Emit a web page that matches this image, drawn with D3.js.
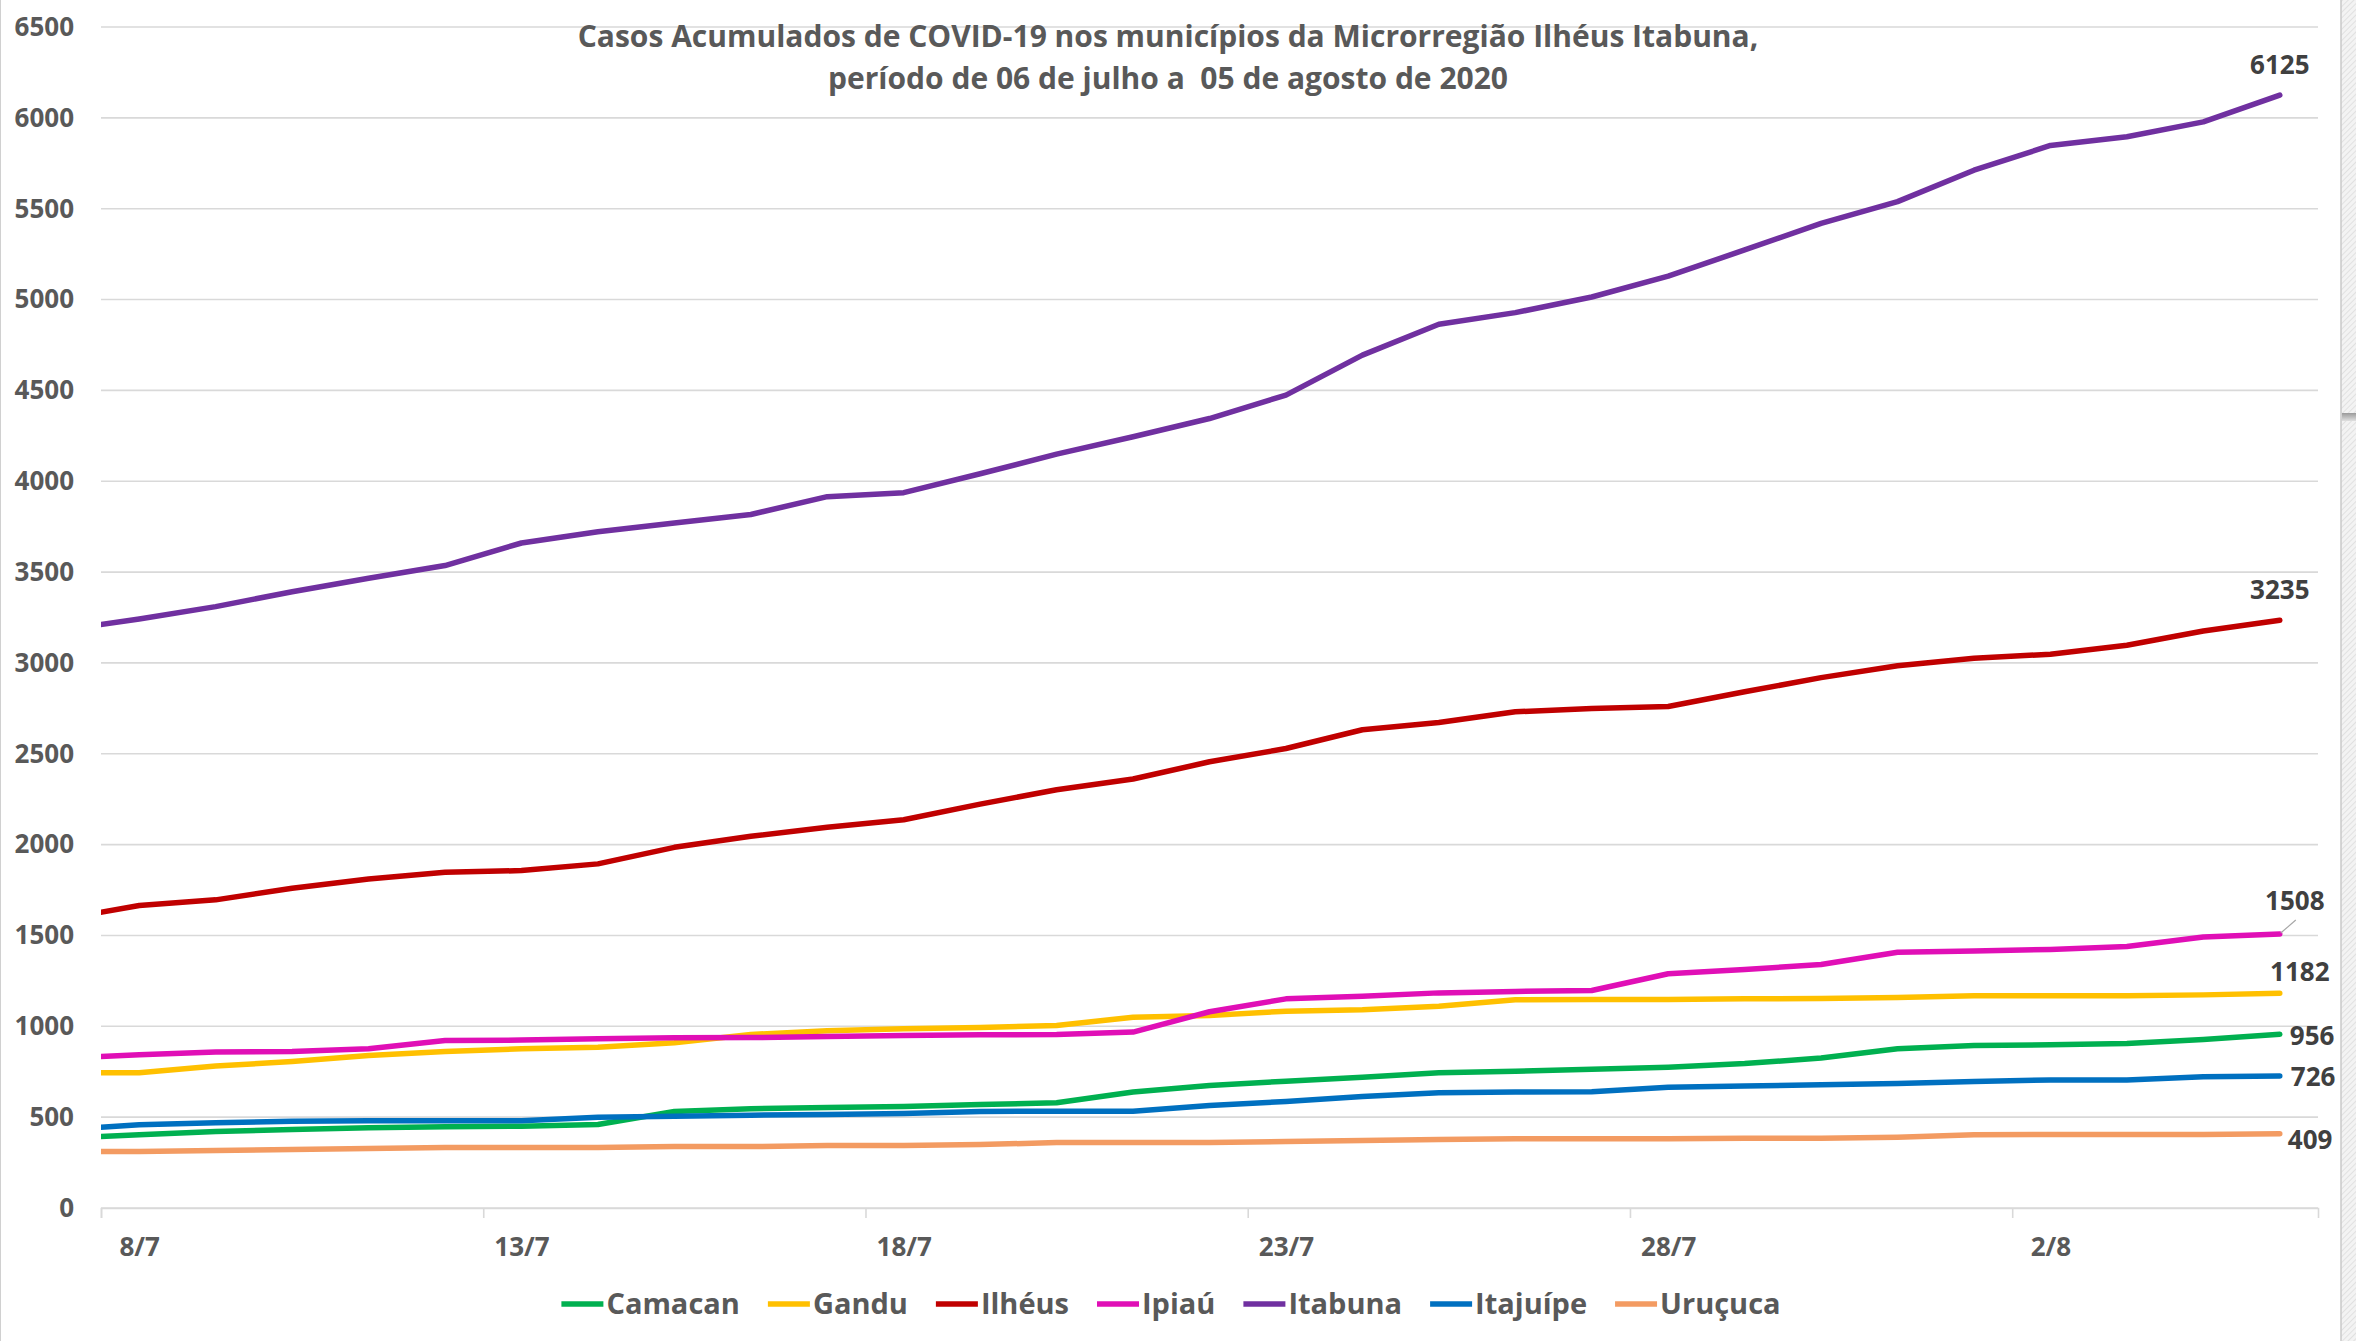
<!DOCTYPE html>
<html>
<head>
<meta charset="utf-8">
<script src="https://cdn.jsdelivr.net/npm/d3@7"></script>
<style>
  html, body { margin: 0; padding: 0; background: #fff; }
  svg { display: block; }
  text { font-family: "Open Sans", "Noto Sans", sans-serif; font-weight: 700; }
</style>
</head>
<body>
<svg id="chart" width="2356" height="1341"></svg>
<script>
// ---- data ----
const dates = ["7/7","8/7","9/7","10/7","11/7","12/7","13/7","14/7","15/7","16/7","17/7","18/7","19/7","20/7","21/7","22/7","23/7","24/7","25/7","26/7","27/7","28/7","29/7","30/7","31/7","1/8","2/8","3/8","4/8","5/8"];
const tickLabels = ["8/7","13/7","18/7","23/7","28/7","2/8"];
const seriesNames = ["Camacan","Gandu","Ilhéus","Ipiaú","Itabuna","Itajuípe","Uruçuca"];
const camacan  = [385,403,421,432,441,447,450,460,531,546,553,559,570,579,638,674,698,720,744,753,764,775,795,825,876,894,898,905,927,956];
const gandu    = [744,744,781,806,839,861,876,885,909,955,975,986,994,1005,1050,1060,1083,1091,1111,1146,1148,1148,1151,1153,1159,1168,1168,1168,1173,1182];
const ilheus   = [1591,1665,1696,1760,1811,1848,1857,1894,1985,2046,2095,2137,2223,2302,2361,2456,2529,2632,2672,2731,2749,2760,2841,2919,2984,3026,3048,3097,3176,3235];
const ipiau    = [825,843,858,861,876,922,924,931,937,938,944,950,953,955,968,1080,1151,1166,1184,1192,1197,1289,1313,1340,1408,1414,1423,1439,1491,1508];
const itabuna  = [3182,3242,3310,3392,3466,3536,3660,3722,3770,3817,3915,3937,4041,4149,4245,4345,4474,4694,4864,4928,5014,5129,5273,5419,5539,5712,5848,5896,5978,6125];
const itajuipe = [432,458,469,478,480,480,480,500,505,511,515,520,531,533,533,564,586,614,634,638,640,665,671,678,685,696,705,705,722,726];
const urucuca  = [311,311,316,322,327,333,333,333,338,338,344,344,349,360,360,360,366,372,377,381,381,381,384,384,390,403,405,405,405,409];
const yTicks = [0,500,1000,1500,2000,2500,3000,3500,4000,4500,5000,5500,6000,6500];
const titleLines = ["Casos Acumulados de COVID-19 nos municípios da Microrregião Ilhéus Itabuna,",
                    "período de 06 de julho a  05 de agosto de 2020"];

// ---- styles ----
const colors = ["#00B050","#FFC000","#C00000","#E00FB6","#7030A0","#0070C0","#F39B62"];
const values = [camacan, gandu, ilheus, ipiau, itabuna, itajuipe, urucuca];
// label placement relative to the last point: [dx, dy, anchor]
const labelPos = [[10,11,"start"],[20,-12,"middle"],[0,-21,"middle"],[15,-24,"middle"],[0,-21,"middle"],[11,10,"start"],[8,15,"start"]];

(function () {
const W = 2356, H = 1341;
const pLeft = 101, pRight = 2318, pTop = 27, pBottom = 1208;
const svg = d3.select("#chart");
svg.append("rect").attr("width", W).attr("height", H).attr("fill", "#fff");

const x = d3.scaleLinear().domain([0.5, dates.length - 0.5]).range([pLeft, pRight]);
const y = d3.scaleLinear().domain([0, 6500]).range([pBottom, pTop]);

// gridlines
svg.append("g").selectAll("line").data(yTicks).join("line")
  .attr("x1", pLeft).attr("x2", pRight)
  .attr("y1", d => y(d)).attr("y2", d => y(d))
  .attr("stroke", "#d9d9d9").attr("stroke-width", 1.6);

// y axis labels
const yAxis = d3.axisLeft(y).tickValues(yTicks).tickSize(0).tickPadding(0).tickFormat(d3.format("d"));
const gy = svg.append("g").attr("transform", `translate(74,0)`).call(yAxis);
gy.select(".domain").remove();
gy.selectAll("text").attr("font-size", 26).attr("fill", "#595959")
  .attr("font-family", '"Open Sans", sans-serif').attr("font-weight", 700);

// x axis tick marks (between categories)
const tickMarkIdx = tickLabels.map(t => dates.indexOf(t) - 0.5);
const xMarks = d3.axisBottom(x).tickValues(tickMarkIdx).tickSize(10).tickFormat("");
const gxm = svg.append("g").attr("transform", `translate(0,${pBottom})`).call(xMarks);
gxm.select(".domain").attr("stroke", "#d9d9d9").attr("stroke-width", 1.6);
gxm.selectAll(".tick line").attr("stroke", "#d9d9d9").attr("stroke-width", 1.6);

// x axis labels (centered on categories)
const tickIdx = tickLabels.map(t => dates.indexOf(t));
const xLabels = d3.axisBottom(x).tickValues(tickIdx).tickSize(0).tickPadding(0)
  .tickFormat(d => dates[d]);
const gxl = svg.append("g").attr("transform", `translate(0,${pBottom})`).call(xLabels);
gxl.select(".domain").remove();
gxl.selectAll("text").attr("font-size", 26).attr("fill", "#595959")
  .attr("font-family", '"Open Sans", sans-serif').attr("font-weight", 700)
  .attr("dy", null).attr("y", 48);

// clip
svg.append("clipPath").attr("id", "plotclip").append("rect")
  .attr("x", pLeft).attr("y", 0).attr("width", pRight - pLeft).attr("height", H);

const line = d3.line().x((d, i) => x(i)).y(d => y(d));
const gLines = svg.append("g").attr("clip-path", "url(#plotclip)");
values.forEach((vals, k) => {
  gLines.append("path").datum(vals)
    .attr("d", line).attr("fill", "none")
    .attr("stroke", colors[k]).attr("stroke-width", 5.5)
    .attr("stroke-linejoin", "round").attr("stroke-linecap", "round");
});

// data labels for last point
const last = dates.length - 1;
values.forEach((vals, k) => {
  const px = x(last), py = y(vals[last]);
  const [dx, dy, anchor] = labelPos[k];
  if (seriesNames[k] === "Ipiaú") {
    svg.append("line").attr("x1", px + 1).attr("y1", py - 1).attr("x2", px + 16).attr("y2", py - 14)
      .attr("stroke", "#a6a6a6").attr("stroke-width", 1.2);
  }
  svg.append("text").attr("x", px + dx).attr("y", py + dy)
    .attr("text-anchor", anchor).attr("font-size", 26).attr("fill", "#404040")
    .text(vals[last]);
});

// title
const gt = svg.append("g");
titleLines.forEach((t, i) => {
  gt.append("text").attr("x", 1168).attr("y", 47 + i * 42)
    .attr("text-anchor", "middle").attr("font-size", 30).attr("fill", "#595959")
    .attr("xml:space", "preserve").style("white-space", "pre").text(t);
});

// legend
const gl = svg.append("g");
let cx = 0;
seriesNames.forEach((name, k) => {
  const g = gl.append("g");
  g.append("line").attr("x1", cx).attr("x2", cx + 42).attr("y1", 1304).attr("y2", 1304)
    .attr("stroke", colors[k]).attr("stroke-width", 5.5);
  const t = g.append("text").attr("x", cx + 45).attr("y", 1314).attr("font-size", 29)
    .attr("fill", "#595959").text(name);
  const w = t.node().getComputedTextLength();
  cx += 45 + w + 28;
});
const totalW = cx - 28;
gl.attr("transform", `translate(${1171 - totalW / 2},0)`);

// window frame bits (left border, right hatched edge)
svg.append("line").attr("x1", 0.5).attr("x2", 0.5).attr("y1", 0).attr("y2", H)
  .attr("stroke", "#d0d0d0").attr("stroke-width", 1);
const defs = svg.append("defs");
const pat = defs.append("pattern").attr("id", "hatch").attr("width", 4).attr("height", 4)
  .attr("patternUnits", "userSpaceOnUse").attr("patternTransform", "rotate(45)");
pat.append("rect").attr("width", 4).attr("height", 4).attr("fill", "#f3f3f3");
pat.append("line").attr("x1", 0).attr("y1", 0).attr("x2", 0).attr("y2", 4).attr("stroke", "#dcdcdc").attr("stroke-width", 1.5);
svg.append("rect").attr("x", 2341).attr("y", 0).attr("width", 15).attr("height", H).attr("fill", "url(#hatch)");
svg.append("line").attr("x1", 2341).attr("x2", 2341).attr("y1", 0).attr("y2", H)
  .attr("stroke", "#c8c8c8").attr("stroke-width", 1.5);
const grad = defs.append("linearGradient").attr("id", "tabg").attr("x1", 0).attr("x2", 0).attr("y1", 0).attr("y2", 1);
grad.append("stop").attr("offset", "0%").attr("stop-color", "#9a9a9a");
grad.append("stop").attr("offset", "100%").attr("stop-color", "#e0e0e0");
svg.append("rect").attr("x", 2342).attr("y", 413).attr("width", 14).attr("height", 8).attr("fill", "url(#tabg)");
})();
</script>
</body>
</html>
